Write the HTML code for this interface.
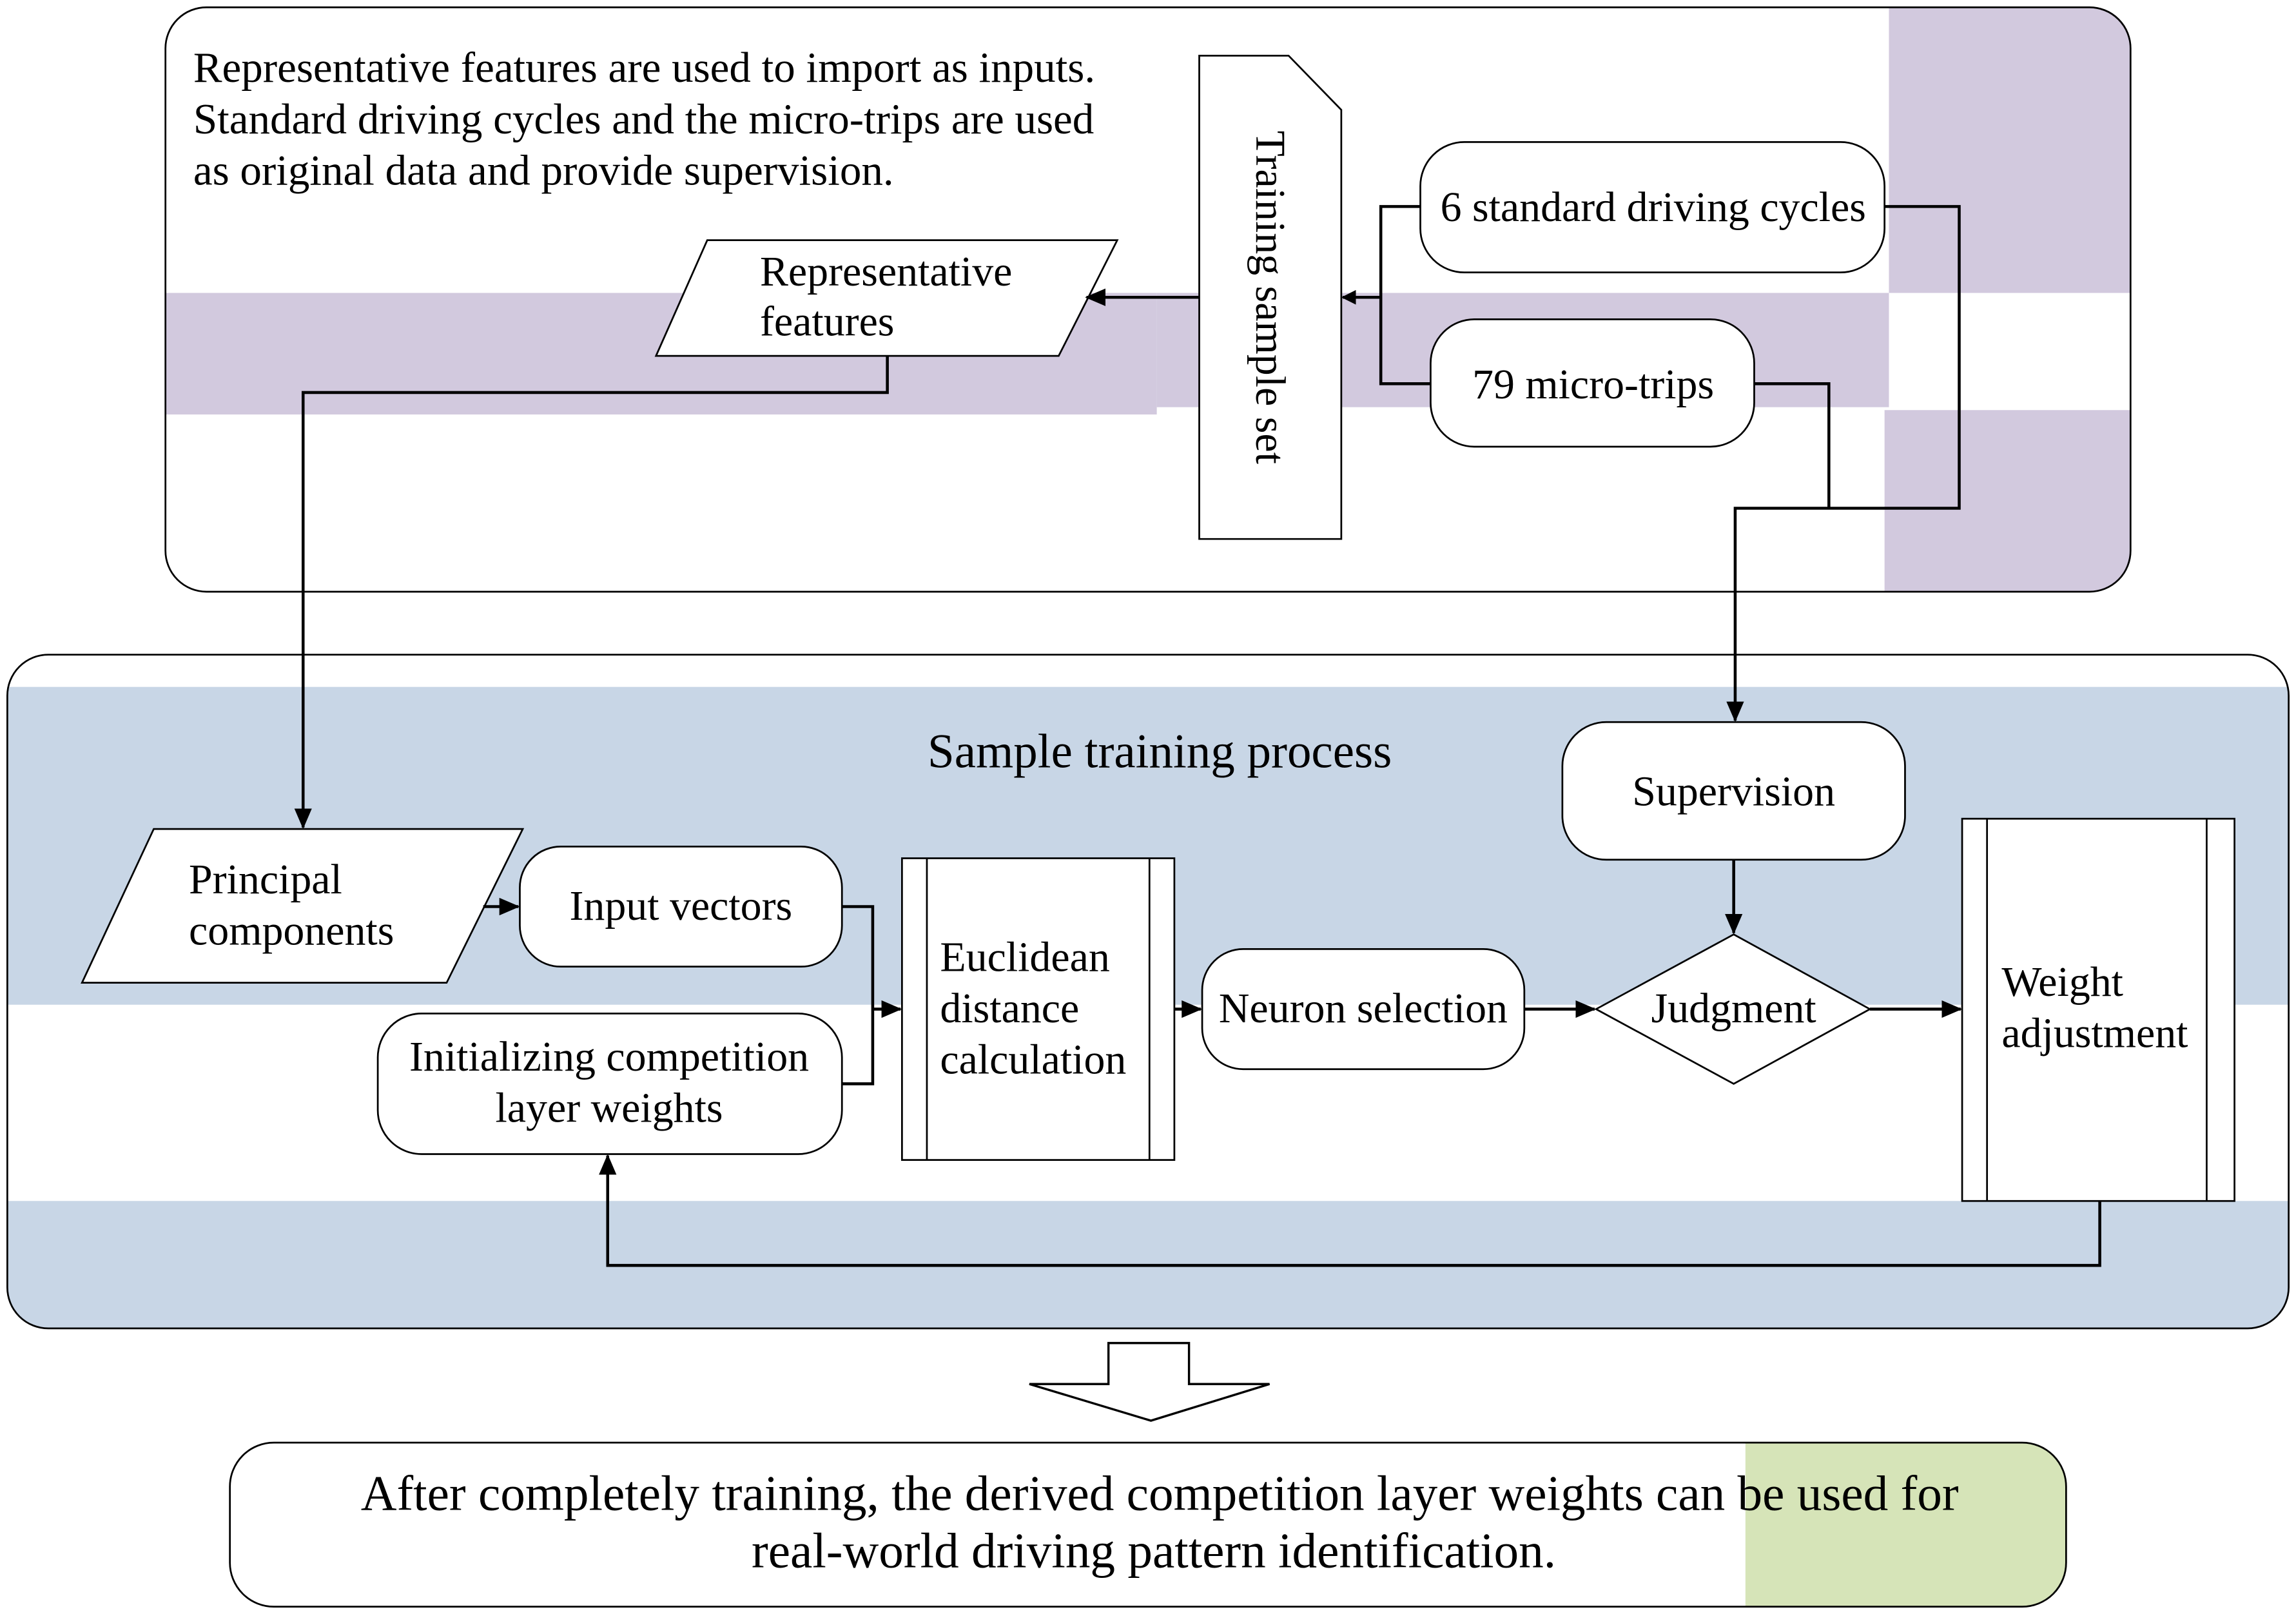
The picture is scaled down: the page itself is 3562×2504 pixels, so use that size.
<!DOCTYPE html>
<html><head><meta charset="utf-8"><style>html,body{margin:0;padding:0;background:#fff}svg{display:block}</style></head><body>
<svg width="3562" height="2504" viewBox="0 0 1568 1102" preserveAspectRatio="none" xmlns="http://www.w3.org/2000/svg" font-family="Liberation Serif, serif" font-size="29" fill="#000">
<defs>
<marker id="a" markerWidth="10" markerHeight="10" refX="9" refY="5" orient="auto" markerUnits="userSpaceOnUse"><path d="M0,0 L10,5 L0,10 z" fill="#000"/></marker>
<marker id="b" markerWidth="14" markerHeight="12" refX="13" refY="6" orient="auto" markerUnits="userSpaceOnUse"><path d="M0,0 L14,6 L0,12 z" fill="#000"/></marker>
<clipPath id="c1"><rect x="113" y="5" width="1342" height="399" rx="28"/></clipPath>
<clipPath id="c2"><rect x="5" y="447" width="1558" height="460" rx="28"/></clipPath>
<clipPath id="c3"><rect x="157" y="985" width="1254" height="112" rx="30"/></clipPath>
</defs>
<!-- top box -->
<g clip-path="url(#c1)">
<rect x="113" y="5" width="1342" height="399" fill="#fff"/>
<rect x="1290" y="5" width="165" height="195" fill="#d2c9de"/>
<rect x="1287" y="280" width="168" height="124" fill="#d2c9de"/>
<rect x="113" y="200" width="677" height="83" fill="#d2c9de"/>
<rect x="790" y="200" width="500" height="78" fill="#d2c9de"/>
</g>
<rect x="113" y="5" width="1342" height="399" rx="28" fill="none" stroke="#000" stroke-width="1.2"/>
<text x="132" y="56" font-size="29.5">Representative features are used to import as  inputs.</text>
<text x="132" y="91" font-size="29.5">Standard driving cycles and the micro-trips are used</text>
<text x="132" y="126" font-size="29.5">as original data and provide supervision.</text>
<polygon points="483,164 763,164 723,243 448,243" fill="#fff" stroke="#000" stroke-width="1.2"/>
<text x="519" y="195">Representative</text>
<text x="519" y="229">features</text>
<polygon points="819,38 880,38 916,75 916,368 819,368" fill="#fff" stroke="#000" stroke-width="1.2"/>
<text transform="translate(858,203) rotate(90)" text-anchor="middle">Training sample set</text>
<rect x="970" y="97" width="317" height="89" rx="30" fill="#fff" stroke="#000" stroke-width="1.2"/>
<text x="1129" y="151" text-anchor="middle">6 standard driving cycles</text>
<rect x="977" y="218" width="221" height="87" rx="30" fill="#fff" stroke="#000" stroke-width="1.2"/>
<text x="1088" y="272" text-anchor="middle">79 micro-trips</text>
<!-- bottom box -->
<g clip-path="url(#c2)">
<rect x="5" y="447" width="1558" height="460" fill="#fff"/>
<rect x="5" y="469" width="1558" height="217" fill="#c8d6e6"/>
<rect x="5" y="820" width="1558" height="87" fill="#c8d6e6"/>
</g>
<rect x="5" y="447" width="1558" height="460" rx="28" fill="none" stroke="#000" stroke-width="1.2"/>
<text x="792" y="524" text-anchor="middle" font-size="33">Sample training process</text>
<rect x="1067" y="493" width="234" height="94" rx="30" fill="#fff" stroke="#000" stroke-width="1.2"/>
<text x="1184" y="550" text-anchor="middle">Supervision</text>
<polygon points="105,566 357,566 305,671 56,671" fill="#fff" stroke="#000" stroke-width="1.2"/>
<text x="129" y="610">Principal</text>
<text x="129" y="645">components</text>
<rect x="355" y="578" width="220" height="82" rx="28" fill="#fff" stroke="#000" stroke-width="1.2"/>
<text x="465" y="628" text-anchor="middle">Input vectors</text>
<rect x="258" y="692" width="317" height="96" rx="30" fill="#fff" stroke="#000" stroke-width="1.2"/>
<text x="416" y="731" text-anchor="middle">Initializing competition</text>
<text x="416" y="766" text-anchor="middle">layer weights</text>
<rect x="616" y="586" width="186" height="206" fill="#fff" stroke="#000" stroke-width="1.2"/>
<path d="M633,586 V792 M785,586 V792" stroke="#000" stroke-width="1.2"/>
<text x="642" y="663">Euclidean</text>
<text x="642" y="698">distance</text>
<text x="642" y="733">calculation</text>
<rect x="821" y="648" width="220" height="82" rx="28" fill="#fff" stroke="#000" stroke-width="1.2"/>
<text x="931" y="698" text-anchor="middle">Neuron selection</text>
<polygon points="1184,638 1277,689 1184,740 1090,689" fill="#fff" stroke="#000" stroke-width="1.2"/>
<text x="1184" y="698" text-anchor="middle">Judgment</text>
<rect x="1340" y="559" width="186" height="261" fill="#fff" stroke="#000" stroke-width="1.2"/>
<path d="M1357,559 V820 M1507,559 V820" stroke="#000" stroke-width="1.2"/>
<text x="1367" y="680">Weight</text>
<text x="1367" y="715">adjustment</text>
<g fill="none" stroke="#000" stroke-width="2">
<path d="M970,141 H943 V262 H977"/>
<path d="M943,203 H917" marker-end="url(#a)"/>
<path d="M819,203 H742" marker-end="url(#b)"/>
<path d="M606,243 V268 H207 V565" marker-end="url(#b)"/>
<path d="M1287,141 H1338 V347 H1185 V492" marker-end="url(#b)"/>
<path d="M1198,262 H1249 V347"/>
<path d="M1184,587 V637" marker-end="url(#b)"/>
<path d="M330,619 H354" marker-end="url(#b)"/>
<path d="M575,619 H596 V740 H575"/>
<path d="M596,689 H615" marker-end="url(#b)"/>
<path d="M802,689 H820" marker-end="url(#b)"/>
<path d="M1041,689 H1089" marker-end="url(#b)"/>
<path d="M1277,689 H1339" marker-end="url(#b)"/>
<path d="M1434,820 V864 H415 V789" marker-end="url(#b)"/>
</g>
<!-- hollow arrow -->
<polygon points="757,917 812,917 812,945 867,945 786,970 703,945 757,945" fill="#fff" stroke="#000" stroke-width="1.5"/>
<!-- bottom result box -->
<g clip-path="url(#c3)">
<rect x="157" y="985" width="1254" height="112" fill="#fff"/>
<rect x="1192" y="985" width="219" height="112" fill="#d6e4b8"/>
</g>
<rect x="157" y="985" width="1254" height="112" rx="30" fill="none" stroke="#000" stroke-width="1.2"/>
<text x="792" y="1031" text-anchor="middle" font-size="34">After completely training, the derived competition layer weights can be used for</text>
<text x="788" y="1070" text-anchor="middle" font-size="34">real-world driving pattern identification.</text>
</svg>
</body></html>
